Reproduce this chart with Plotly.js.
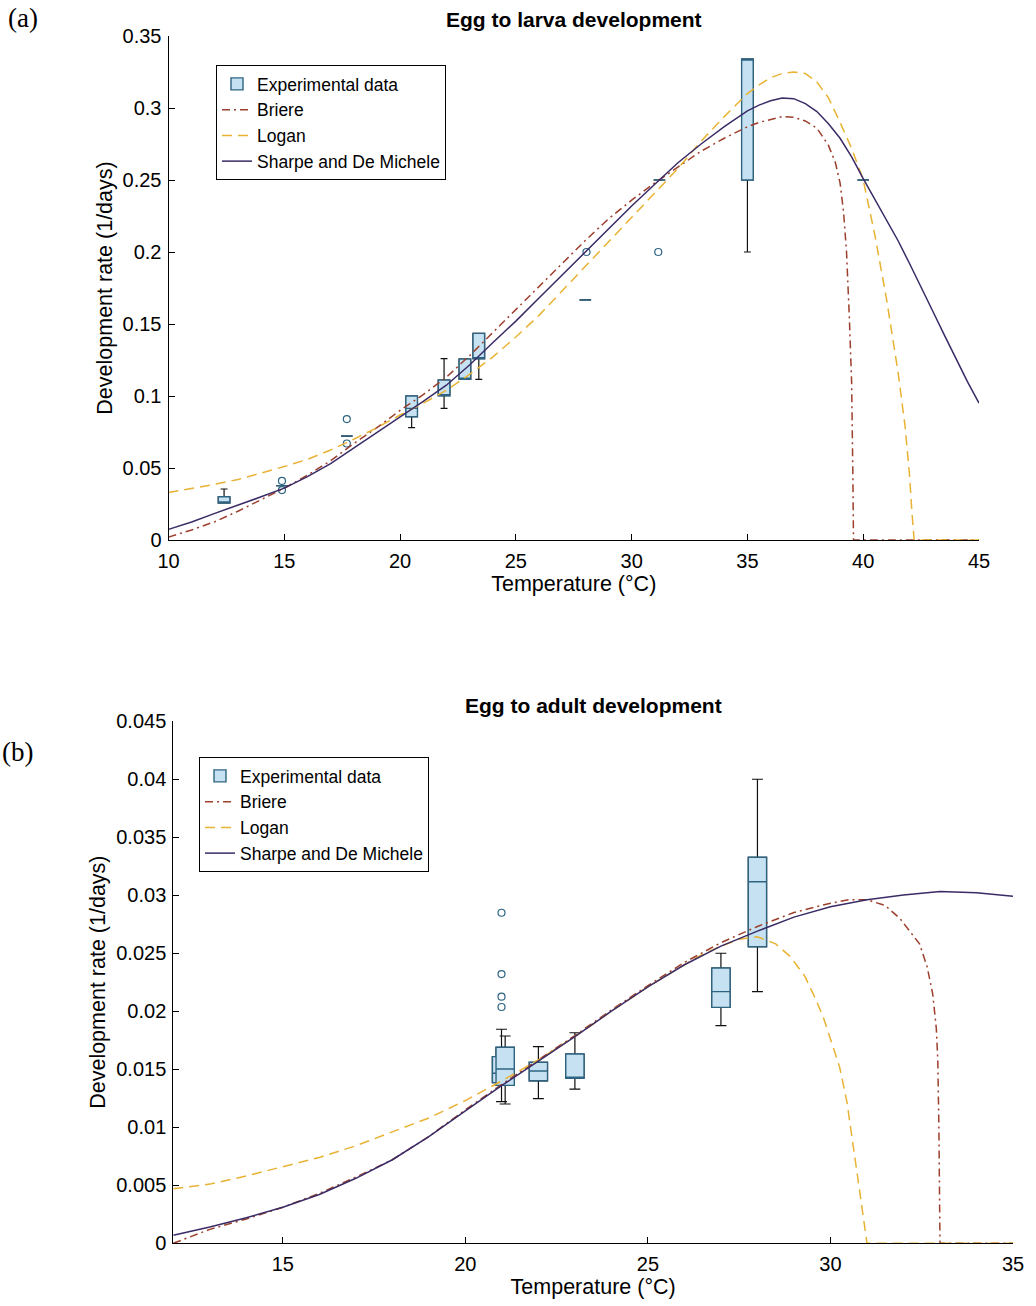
<!DOCTYPE html>
<html>
<head>
<meta charset="utf-8">
<script src="https://cdn.plot.ly/plotly-3.0.1.min.js"></script>
<style>html,body{margin:0;padding:0;background:#fff;}#chart{width:1036px;height:1306px;}</style>
</head>
<body>
<div id="chart"></div>
<script>
// ---------- Panel (a): Egg to larva development ----------
const boxTempA = [12.4, 14.9, 17.7, 20.5, 21.9, 22.8, 23.4, 28.0, 31.2, 35.0, 40.0];
const q1A      = [0.0257, 0.0377, 0.0722, 0.0856, 0.1002, 0.1116, 0.1259, 0.1667, 0.25, 0.25, 0.25];
const medA     = [0.0257, 0.0377, 0.0722, 0.0914, 0.1002, 0.1116, 0.1259, 0.1667, 0.25, 0.334, 0.25];
const q3A      = [0.0300, 0.0377, 0.0722, 0.1000, 0.1111, 0.1257, 0.1435, 0.1667, 0.25, 0.334, 0.25];
const lowA     = [0.0257, 0.0377, 0.0722, 0.0780, 0.0914, 0.1116, 0.1116, 0.1667, 0.25, 0.20, 0.25];
const upA      = [0.0354, 0.0377, 0.0722, 0.1000, 0.1259, 0.1257, 0.1435, 0.1667, 0.25, 0.334, 0.25];
const outTempA = [14.9, 14.9, 17.7, 17.7, 28.05, 31.15];
const outRateA = [0.041, 0.0347, 0.084, 0.067, 0.200, 0.200];

const sharpeTempA = [10,11,12,13,14,15,16,17,18,19,20,21,22,23,24,25,26,27,28,29,30,31,32,33,34,35,35.5,36,36.5,37,37.5,38,38.5,39,39.5,40,40.5,41,41.5,42,42.5,43,43.5,44,44.5,45];
const sharpeRateA = [0.0074,0.0125,0.0185,0.024,0.030,0.036,0.044,0.053,0.0637,0.0745,0.0856,0.0962,0.1075,0.1215,0.137,0.152,0.168,0.184,0.200,0.216,0.232,0.247,0.262,0.275,0.287,0.298,0.302,0.305,0.307,0.3065,0.303,0.2975,0.289,0.279,0.266,0.251,0.237,0.222,0.208,0.192,0.176,0.159,0.1425,0.126,0.110,0.095];
const briereTempA = [10,11,12,13,14,15,16,17,18,19,20,21,22,23,24,25,26,27,28,29,30,31,32,33,34,35,35.5,36,36.5,37,37.5,38,38.5,38.8,39.0,39.15,39.28,39.4,39.5,39.55,39.58,42,45];
const briereRateA = [0.002,0.007,0.0127,0.020,0.028,0.036,0.045,0.055,0.067,0.078,0.090,0.101,0.113,0.128,0.144,0.160,0.176,0.192,0.208,0.223,0.236,0.248,0.259,0.270,0.279,0.287,0.290,0.292,0.294,0.2935,0.291,0.286,0.274,0.262,0.248,0.228,0.200,0.155,0.109,0.05,0,0,0];
const loganTempA  = [10,11,12,13,14,15,16,17,18,19,20,21,22,23,24,25,26,27,28,29,30,31,32,33,34,35,35.5,36,36.5,37,37.5,38,38.5,39,39.5,40,40.5,41,41.5,41.8,42.0,42.1,42.2,45];
const loganRateA  = [0.033,0.0357,0.0387,0.042,0.0463,0.051,0.056,0.0625,0.070,0.078,0.0868,0.095,0.104,0.115,0.127,0.141,0.156,0.173,0.190,0.207,0.2245,0.241,0.258,0.277,0.294,0.310,0.316,0.321,0.324,0.325,0.324,0.318,0.307,0.290,0.272,0.250,0.212,0.168,0.117,0.080,0.045,0.02,0,0];

const yTicksA = [0,0.05,0.1,0.15,0.2,0.25,0.3,0.35];
const yLabelsA = ['0','0.05','0.1','0.15','0.2','0.25','0.3','0.35'];
const xTicksA = [10,15,20,25,30,35,40,45];

// ---------- Panel (b): Egg to adult development ----------
const boxTempB = [20.99, 21.09, 22.0, 23.0, 27.0, 28.0];
const q1B      = [0.01384, 0.01361, 0.0140, 0.01422, 0.02033, 0.02555];
const medB     = [0.01465, 0.01502, 0.01484, 0.01422, 0.02168, 0.03115];
const q3B      = [0.01608, 0.01689, 0.0156, 0.01631, 0.02372, 0.03326];
const lowB     = [0.0122, 0.0120, 0.01246, 0.01329, 0.01875, 0.02168];
const upB      = [0.01844, 0.01786, 0.01694, 0.01814, 0.02499, 0.03998];
const outTempB = [20.99, 20.99, 20.99, 20.99];
const outRateB = [0.02848, 0.0232, 0.02125, 0.02036];

const sharpeTempB = [12,13,14,15,16,17,18,19,20,21,22,23,24,25,26,27,28,29,30,31,32,33,34,35];
const sharpeRateB = [0.0007,0.0014,0.0022,0.0031,0.0042,0.0056,0.0072,0.0092,0.0114,0.0136,0.0157,0.0178,0.0200,0.0221,0.0240,0.0256,0.0269,0.0281,0.0290,0.0296,0.0300,0.0303,0.0302,0.0299];
const briereTempB = [12,12.5,13,14,15,16,17,18,19,20,21,22,23,24,25,26,27,28,29,30,30.5,31,31.5,31.9,32.2,32.44,32.65,32.8,32.9,32.94,32.97,32.99,33.0,35];
const briereRateB = [0.0,0.0006,0.0012,0.0021,0.0031,0.0043,0.0057,0.0072,0.0092,0.0115,0.0137,0.0158,0.0179,0.0201,0.0222,0.0242,0.0259,0.0273,0.0285,0.0293,0.0296,0.0296,0.0291,0.0280,0.0268,0.0258,0.0238,0.0215,0.0185,0.0158,0.0100,0.0040,0,0];
const loganTempB  = [12,13,14,15,16,17,18,19,20,21,22,23,24,25,26,26.5,27,27.5,28,28.5,28.9,29.3,29.6,29.8,30.0,30.25,30.45,30.6,30.8,31.0,35];
const loganRateB  = [0.0047,0.0051,0.0058,0.0066,0.0074,0.0084,0.0096,0.0108,0.0123,0.0140,0.0158,0.0178,0.0200,0.0221,0.0240,0.0249,0.0256,0.0262,0.0264,0.0258,0.0247,0.0230,0.0210,0.0195,0.0176,0.0152,0.0122,0.0087,0.0045,0,0];

const yTicksB = [0,0.005,0.01,0.015,0.02,0.025,0.03,0.035,0.04,0.045];
const yLabelsB = ['0','0.005','0.01','0.015','0.02','0.025','0.03','0.035','0.04','0.045'];
const xTicksB = [15,20,25,30,35];

// ---------- styles ----------
const BOX_FILL = '#c6e1f1';
const BOX_LINE = '#2e6481';
const C_BRIERE = '#9c3f2c';
const C_LOGAN  = '#e8b233';
const C_SHARPE = '#3a2b66';
const FONT = 'Liberation Sans, Arial, Helvetica, sans-serif';

function boxTraces(xs, q1, med, q3, lo, hi, xa, ya, leg) {
  return [
    { type:'box', x: xs, q1: q1, median: med, q3: q3, lowerfence: lo, upperfence: hi,
      width: 0.5, whiskerwidth: 0.6, boxpoints: false, fillcolor: BOX_FILL,
      line: {color:'#111', width:1.2}, xaxis: xa, yaxis: ya, showlegend: false, hoverinfo:'skip' },
    { type:'box', x: xs, q1: q1, median: med, q3: q3, lowerfence: q1, upperfence: q3,
      width: 0.5, whiskerwidth: 0, boxpoints: false, fillcolor: BOX_FILL,
      line: {color: BOX_LINE, width:1.4}, xaxis: xa, yaxis: ya, name: 'Experimental data',
      legend: leg, legendrank: 1, showlegend: true }
  ];
}
function curve(xs, ys, name, color, dash, xa, ya, leg, rank) {
  return { type:'scatter', mode:'lines', x: xs, y: ys, name: name,
    line: {color: color, width: 1.5, dash: dash, shape: 'linear'},
    xaxis: xa, yaxis: ya, legend: leg, legendrank: rank, cliponaxis: true };
}
function outliers(xs, ys, xa, ya) {
  return { type:'scatter', mode:'markers', x: xs, y: ys, showlegend: false,
    marker: {symbol:'circle-open', size: 7, color: BOX_LINE, line:{width:1.2}},
    xaxis: xa, yaxis: ya };
}

const data = [].concat(
  boxTraces(boxTempA, q1A, medA, q3A, lowA, upA, 'x', 'y', 'legend'),
  [outliers(outTempA, outRateA, 'x', 'y'),
   curve(briereTempA, briereRateA, 'Briere', C_BRIERE, '8px,4px,2px,4px', 'x', 'y', 'legend', 2),
   curve(loganTempA, loganRateA, 'Logan', C_LOGAN, '10px,6px', 'x', 'y', 'legend', 3),
   curve(sharpeTempA, sharpeRateA, 'Sharpe and De Michele', C_SHARPE, 'solid', 'x', 'y', 'legend', 4)],
  boxTraces(boxTempB, q1B, medB, q3B, lowB, upB, 'x2', 'y2', 'legend2'),
  [outliers(outTempB, outRateB, 'x2', 'y2'),
   curve(briereTempB, briereRateB, 'Briere', C_BRIERE, '8px,4px,2px,4px', 'x2', 'y2', 'legend2', 2),
   curve(loganTempB, loganRateB, 'Logan', C_LOGAN, '10px,6px', 'x2', 'y2', 'legend2', 3),
   curve(sharpeTempB, sharpeRateB, 'Sharpe and De Michele', C_SHARPE, 'solid', 'x2', 'y2', 'legend2', 4)]
);

const W = 1036, H = 1306;
const axisBase = {
  showline: true, linecolor: '#000', linewidth: 1, mirror: false,
  ticks: 'inside', ticklen: 6, tickcolor: '#000', tickwidth: 1,
  showgrid: false, zeroline: false, fixedrange: true,
  tickfont: {family: FONT, size: 20, color: '#000'}, automargin: false
};
const xExtra = {ticklabelstandoff: 3};
const yExtra = {ticklabelstandoff: 2};
const TITLE_FONT = {family: FONT, size: 21.5, color: '#000'};
const legendBase = {
  bgcolor: '#fff', bordercolor: '#000', borderwidth: 1,
  font: {family: FONT, size: 17.5, color: '#000'}, xanchor: 'left', yanchor: 'top',
  tracegroupgap: 0, traceorder: 'normal', itemwidth: 30
};

const layout = {
  width: W, height: H, margin: {l:0, r:0, t:0, b:0},
  paper_bgcolor: '#fff', plot_bgcolor: '#fff', showlegend: true, boxmode: 'overlay',
  font: {family: FONT, color: '#000'},
  xaxis: Object.assign({}, axisBase, xExtra, {
    domain: [168.5/W, 979/W], range: [10, 45], tickvals: xTicksA, anchor: 'y',
    title: {text: 'Temperature (°C)', font: TITLE_FONT, standoff: 4}
  }),
  yaxis: Object.assign({}, axisBase, yExtra, {
    domain: [(H-540)/H, (H-36)/H], range: [0, 0.35], tickvals: yTicksA, ticktext: yLabelsA, anchor: 'x',
    title: {text: 'Development rate (1/days)', font: TITLE_FONT, standoff: 4}
  }),
  xaxis2: Object.assign({}, axisBase, xExtra, {
    domain: [173.3/W, 1013/W], range: [12, 35], tickvals: xTicksB, anchor: 'y2',
    title: {text: 'Temperature (°C)', font: TITLE_FONT, standoff: 4}
  }),
  yaxis2: Object.assign({}, axisBase, yExtra, {
    domain: [(H-1243.3)/H, (H-721)/H], range: [0, 0.045], tickvals: yTicksB, ticktext: yLabelsB, anchor: 'x2',
    title: {text: 'Development rate (1/days)', font: TITLE_FONT, standoff: 4}
  }),
  legend: Object.assign({}, legendBase, {x: 216/W, y: (H-65)/H}),
  legend2: Object.assign({}, legendBase, {x: 199/W, y: (H-757)/H}),
  annotations: [
    {text: '<b>Egg to larva development</b>', xref:'paper', yref:'paper', x: (168.5+979)/2/W, y: (H-19)/H,
     xanchor:'center', yanchor:'middle', showarrow:false, font:{family: FONT, size: 21, color:'#000'}},
    {text: '<b>Egg to adult development</b>', xref:'paper', yref:'paper', x: (173.3+1013)/2/W, y: (H-706)/H,
     xanchor:'center', yanchor:'middle', showarrow:false, font:{family: FONT, size: 21, color:'#000'}},
    {text: '(a)', xref:'paper', yref:'paper', x: 6/W, y: (H-18)/H, xanchor:'left', yanchor:'middle',
     showarrow:false, font:{family:'Liberation Serif, DejaVu Serif, serif', size: 27, color:'#000'}},
    {text: '(b)', xref:'paper', yref:'paper', x: 0, y: (H-752)/H, xanchor:'left', yanchor:'middle',
     showarrow:false, font:{family:'Liberation Serif, DejaVu Serif, serif', size: 27, color:'#000'}}
  ]
};

Plotly.newPlot('chart', data, layout, {staticPlot: true, displayModeBar: false});
</script>
</body>
</html>
